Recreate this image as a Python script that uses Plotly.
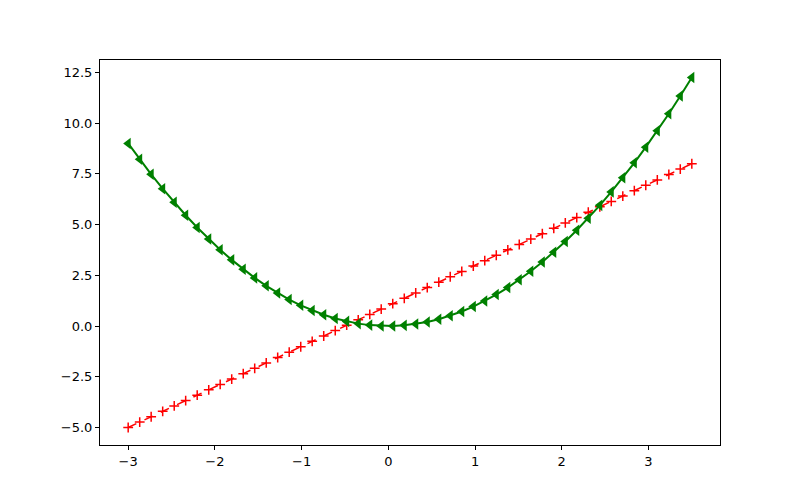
import plotly.graph_objects as go

x = [-3.000, -2.867, -2.735, -2.602, -2.469, -2.337, -2.204, -2.071, -1.939, -1.806,
     -1.673, -1.541, -1.408, -1.276, -1.143, -1.010, -0.878, -0.745, -0.612, -0.480,
     -0.347, -0.214, -0.082, 0.051, 0.184, 0.316, 0.449, 0.582, 0.714, 0.847,
     0.980, 1.112, 1.245, 1.378, 1.510, 1.643, 1.776, 1.908, 2.041, 2.173,
     2.306, 2.439, 2.571, 2.704, 2.837, 2.969, 3.102, 3.235, 3.367, 3.500]

y_line = [-5.000, -4.735, -4.469, -4.204, -3.939, -3.673, -3.408, -3.143, -2.878, -2.612,
          -2.347, -2.082, -1.816, -1.551, -1.286, -1.020, -0.755, -0.490, -0.224, 0.041,
          0.306, 0.571, 0.837, 1.102, 1.367, 1.633, 1.898, 2.163, 2.429, 2.694,
          2.959, 3.224, 3.490, 3.755, 4.020, 4.286, 4.551, 4.816, 5.082, 5.347,
          5.612, 5.878, 6.143, 6.408, 6.673, 6.939, 7.204, 7.469, 7.735, 8.000]

y_square = [9.000, 8.222, 7.478, 6.771, 6.098, 5.460, 4.858, 4.291, 3.759, 3.262,
            2.801, 2.374, 1.983, 1.627, 1.306, 1.021, 0.770, 0.555, 0.375, 0.230,
            0.120, 0.046, 0.007, 0.003, 0.034, 0.100, 0.202, 0.338, 0.510, 0.717,
            0.960, 1.237, 1.550, 1.898, 2.281, 2.699, 3.152, 3.641, 4.165, 4.724,
            5.318, 5.948, 6.612, 7.312, 8.047, 8.817, 9.623, 10.463, 11.339, 12.250]

x_ticks = [-3, -2, -1, 0, 1, 2, 3]
x_ticklabels = ["\u22123", "\u22122", "\u22121", "0", "1", "2", "3"]
y_ticks = [-5.0, -2.5, 0.0, 2.5, 5.0, 7.5, 10.0, 12.5]
y_ticklabels = ["\u22125.0", "\u22122.5", "0.0", "2.5", "5.0", "7.5", "10.0", "12.5"]

fig = go.Figure()
fig.add_trace(go.Scatter(
    x=x, y=y_line, mode="lines+markers",
    line=dict(color="red", width=1.5, dash="dash"),
    marker=dict(symbol="cross-thin", size=7, line=dict(color="red", width=1.5), color="red"),
    showlegend=False,
))
fig.add_trace(go.Scatter(
    x=x, y=y_square, mode="lines+markers",
    line=dict(color="green", width=2),
    marker=dict(symbol="triangle-left", size=10, color="green"),
    showlegend=False,
))

axis_common = dict(
    showgrid=False, zeroline=False, showline=True, mirror=True,
    linecolor="black", linewidth=1, ticks="outside", ticklen=4,
    tickwidth=1, tickcolor="black",
    tickfont=dict(family="DejaVu Sans", size=13, color="black"),
)
fig.update_xaxes(range=[-3.325, 3.825], tickvals=x_ticks, ticktext=x_ticklabels, **axis_common)
fig.update_yaxes(range=[-5.8625, 13.1125], tickvals=y_ticks, ticktext=y_ticklabels, **axis_common)

fig.update_layout(
    width=800, height=500,
    margin=dict(l=100, r=80, t=60, b=55),
    plot_bgcolor="white", paper_bgcolor="white",
)
fig.write_html("out.html", config={"displayModeBar": False},
               post_script="document.body.style.margin='0';")
